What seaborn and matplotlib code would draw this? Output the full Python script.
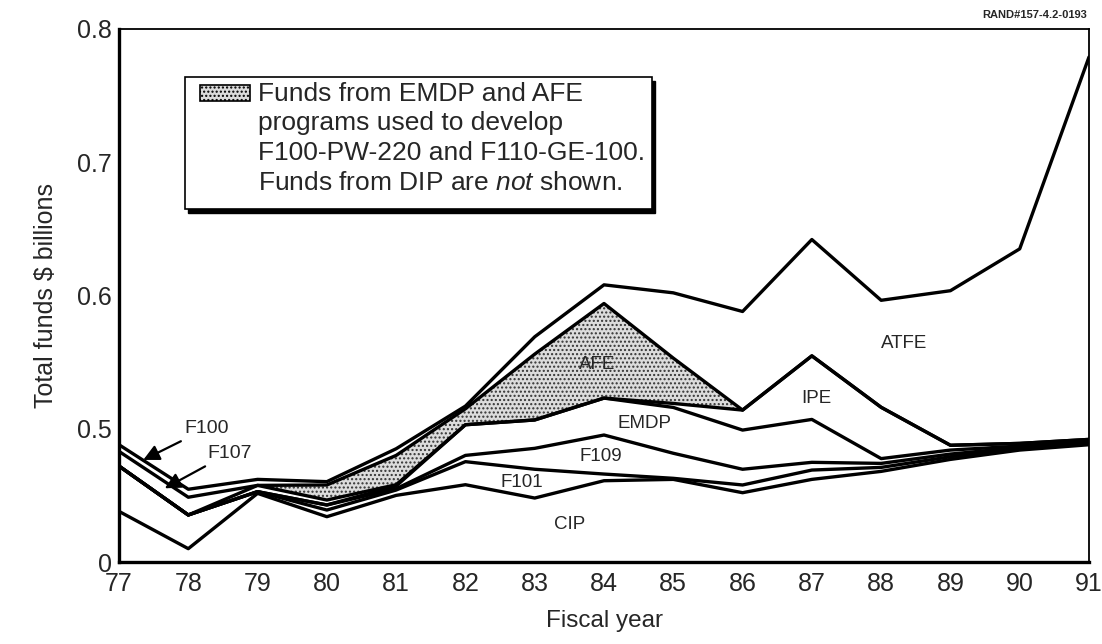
import numpy as np
import pandas as pd
import seaborn as sns
import matplotlib.pyplot as plt
from matplotlib.patches import Rectangle

# fiscal years and cumulative band tops ($ billions, bottom of axis drawn as "0")
years = list(range(77, 92))
cip_top = [0.438, 0.410, 0.4515, 0.434, 0.450, 0.458, 0.448, 0.461, 0.462, 0.452, 0.462, 0.468, 0.477, 0.484, 0.488]
f101_top = [0.472, 0.4353, 0.4528, 0.439, 0.454, 0.4753, 0.4696, 0.466, 0.4628, 0.4578, 0.469, 0.471, 0.479, 0.485, 0.489]
f109_top = [0.472, 0.4353, 0.4528, 0.4428, 0.455, 0.480, 0.4853, 0.4953, 0.4816, 0.4696, 0.4748, 0.474, 0.481, 0.486, 0.490]
emdp_top = [0.472, 0.4353, 0.4528, 0.4428, 0.457, 0.503, 0.5066, 0.523, 0.516, 0.499, 0.507, 0.4776, 0.484, 0.487, 0.490]
ipe_top = [0.472, 0.4353, 0.4575, 0.4465, 0.458, 0.503, 0.5066, 0.523, 0.519, 0.514, 0.5547, 0.5161, 0.4876, 0.489, 0.492]
afe_top = [0.483, 0.4486, 0.4575, 0.4578, 0.480, 0.515, 0.556, 0.594, 0.553, 0.514, 0.5547, 0.5161, 0.4876, 0.489, 0.492]
total = [0.488, 0.4546, 0.462, 0.4603, 0.485, 0.517, 0.569, 0.608, 0.602, 0.588, 0.642, 0.5964, 0.6036, 0.635, 0.779]
shade_from, shade_to = 79, 86

y_ticks = [0.40, 0.45, 0.50, 0.55, 0.60, 0.65, 0.70, 0.75, 0.80]
y_ticklabels = ["0", "", "0.5", "", "0.6", "", "0.7", "", "0.8"]

band_labels = [("CIP", 83.51, 0.428), ("F101", 82.82, 0.460), ("F109", 83.96, 0.479),
               ("EMDP", 84.58, 0.504), ("IPE", 87.07, 0.523), ("AFE", 83.9, 0.548),
               ("ATFE", 88.33, 0.564)]

sns.set_theme(style="white")
plt.rcParams["font.family"] = ["Liberation Sans", "DejaVu Sans"]
plt.rcParams["mathtext.fontset"] = "custom"
plt.rcParams["mathtext.it"] = "Liberation Sans:italic"
plt.rcParams["hatch.linewidth"] = 1.0

fig = plt.figure(figsize=(11.02, 6.44), dpi=100)
ax = fig.add_axes([119 / 1102, 1 - 562 / 644, 970 / 1102, 533 / 644])

df = pd.DataFrame({"year": years, "cip": cip_top, "f101": f101_top, "f109": f109_top,
                   "emdp": emdp_top, "ipe": ipe_top, "afe": afe_top, "total": total})

yr = df["year"].to_numpy()
mask = (yr >= shade_from) & (yr <= shade_to)
ax.fill_between(yr, df["ipe"], df["afe"], where=mask, facecolor="#dcdcdc",
                edgecolor="#333333", hatch="....", linewidth=0, zorder=1)

for col in ["cip", "f101", "f109", "emdp", "ipe", "afe", "total"]:
    sns.lineplot(data=df, x="year", y=col, ax=ax, color="black", lw=2.4, zorder=3)

for text, x, y in band_labels:
    ax.text(x, y, text, fontsize=13.5, ha="center", va="center", zorder=4)

arrow = dict(arrowstyle="-|>", color="black", lw=1.6, mutation_scale=24, shrinkA=2, shrinkB=0)
ax.annotate("F100", xy=(77.35, 0.4766), xytext=(77.95, 0.5004), fontsize=14,
            va="center", arrowprops=arrow)
ax.annotate("F107", xy=(77.66, 0.4553), xytext=(78.27, 0.4816), fontsize=14,
            va="center", arrowprops=arrow)

ax.set_xlim(77, 91)
ax.set_ylim(0.4, 0.8)
ax.set_xticks(years)
ax.set_xticklabels([str(y) for y in years], fontsize=18)
ax.set_yticks(y_ticks)
ax.set_yticklabels(y_ticklabels, fontsize=18)
ax.tick_params(axis="both", direction="in", color="black", width=1.1)
ax.tick_params(axis="y", length=19, pad=5)
ax.tick_params(axis="x", length=14, pad=7)
ax.set_xlabel("Fiscal year", fontsize=17.5, labelpad=10)
ax.set_ylabel("Total funds $ billions", fontsize=18, labelpad=14)

for side in ["left", "bottom"]:
    ax.spines[side].set_linewidth(2.4)
for side in ["top", "right"]:
    ax.spines[side].set_linewidth(1.3)
for s in ax.spines.values():
    s.set_color("black")

# legend box with drop shadow
bx, by, bw, bh = 0.068, 0.662, 0.4815, 0.248
ax.add_patch(Rectangle((bx + 0.0035, by - 0.007), bw, bh, transform=ax.transAxes,
                       facecolor="black", edgecolor="black", zorder=5))
ax.add_patch(Rectangle((bx, by), bw, bh, transform=ax.transAxes,
                       facecolor="white", edgecolor="black", lw=1.2, zorder=6))
ax.add_patch(Rectangle((0.0835, 0.865), 0.0515, 0.030, transform=ax.transAxes,
                       facecolor="#dcdcdc", edgecolor="black", hatch="....", lw=1.2, zorder=7))
legend_text = ("Funds from EMDP and AFE\nprograms used to develop\n"
               "F100-PW-220 and F110-GE-100.\nFunds from DIP are $\\it{not}$ shown.")
ax.text(0.1433, 0.901, legend_text, transform=ax.transAxes, fontsize=19,
        va="top", ha="left", linespacing=1.3, zorder=8)

fig.text(1087 / 1102, 1 - 15 / 644, "RAND#157-4.2-0193", fontsize=8,
         fontweight="bold", ha="right", va="center")

fig.savefig("out.png", dpi=100)
